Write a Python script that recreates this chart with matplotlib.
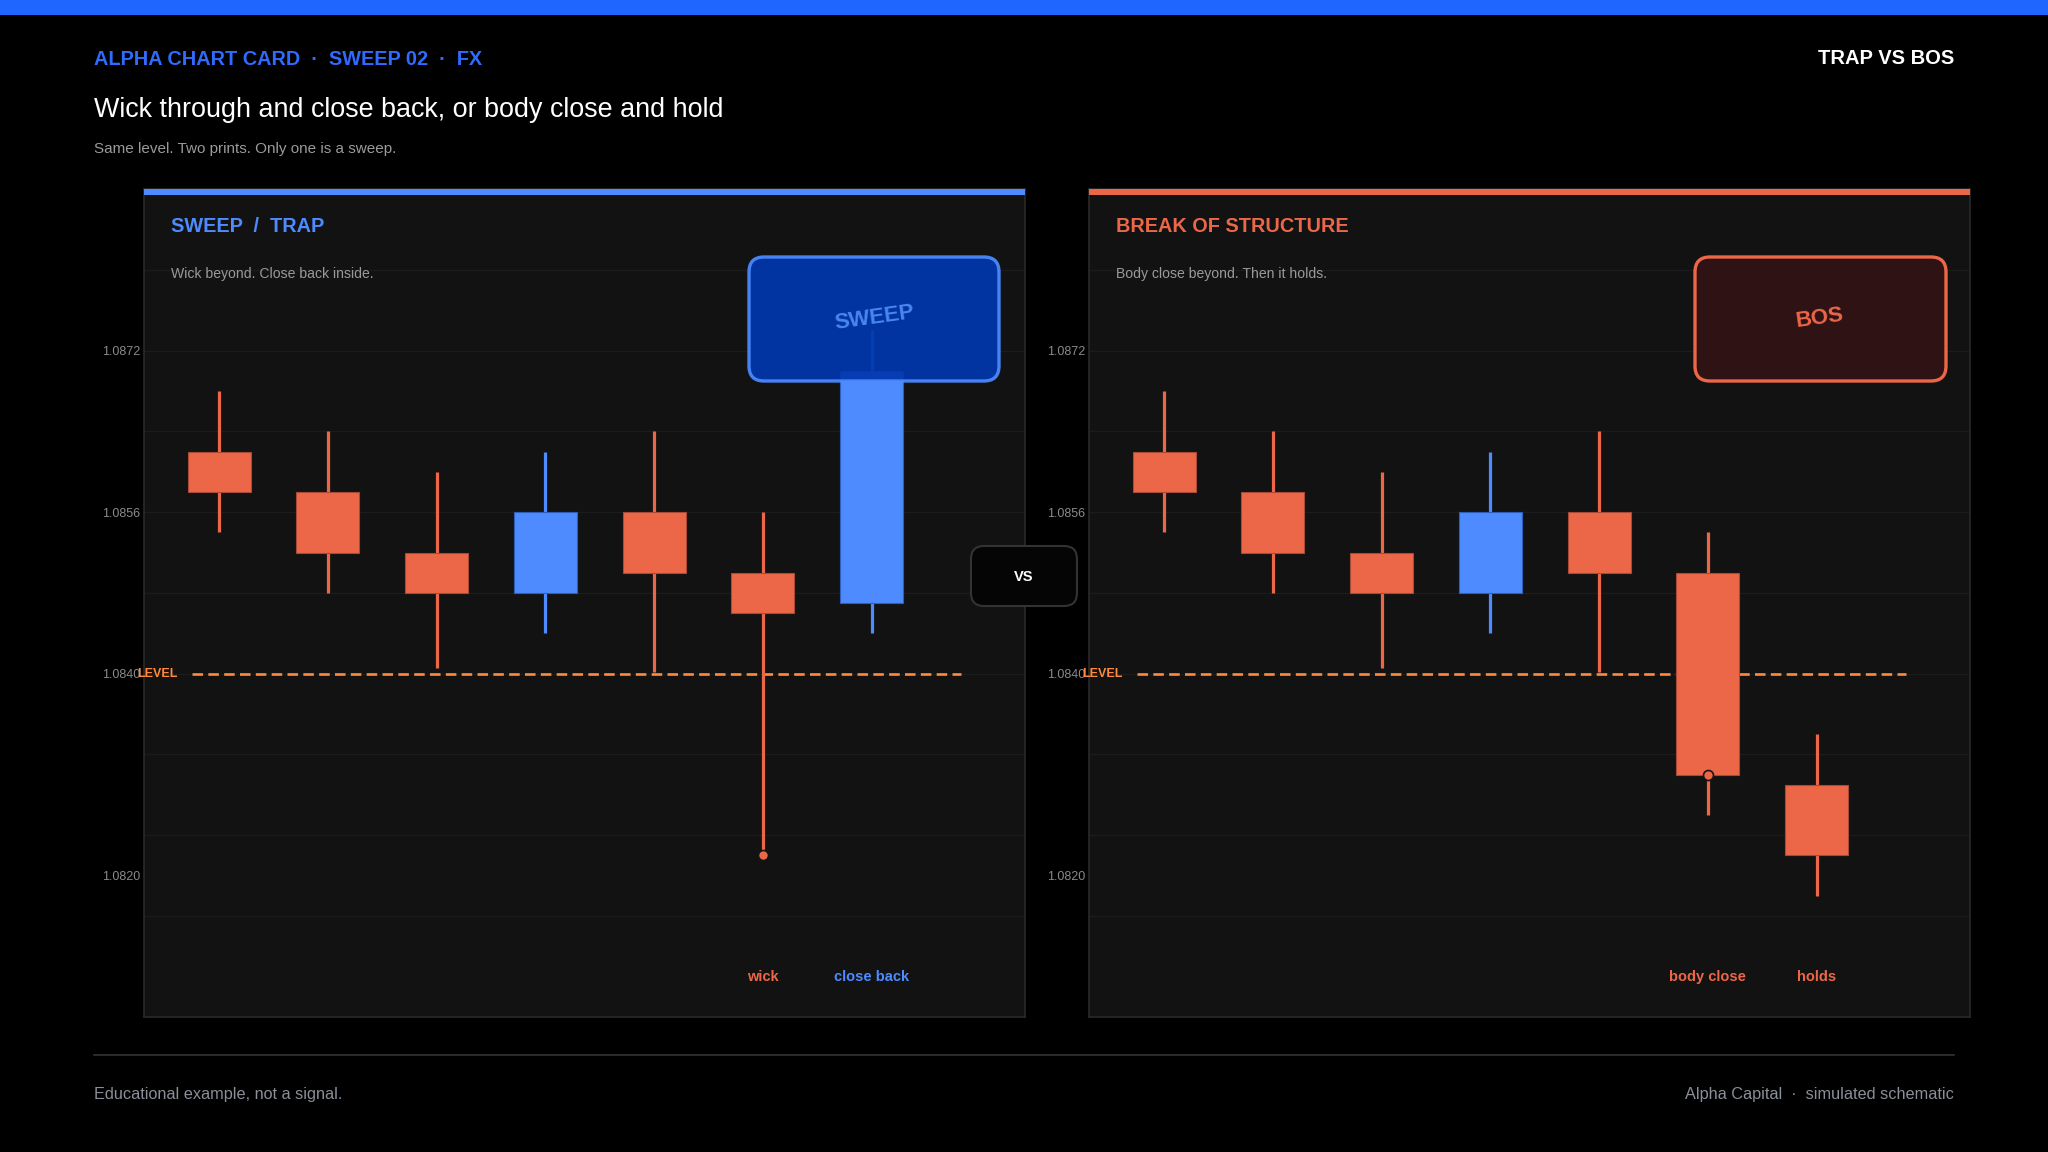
import matplotlib
matplotlib.use("Agg")
import matplotlib.pyplot as plt
from matplotlib.patches import Rectangle, FancyBboxPatch
import matplotlib.transforms as mtransforms

plt.rcParams['font.family'] = ['Liberation Sans', 'DejaVu Sans']

# ---------------- data ----------------
x_idx = [0, 1, 2, 3, 4, 5, 6]

sweep_open = [1.0862, 1.0858, 1.0852, 1.0848, 1.0856, 1.0850, 1.0847]
sweep_close = [1.0858, 1.0852, 1.0848, 1.0856, 1.0850, 1.0846, 1.0870]
sweep_high = [1.0868, 1.0864, 1.0860, 1.0862, 1.0864, 1.0856, 1.0874]
sweep_low = [1.0854, 1.0848, 1.08406, 1.0844, 1.08402, 1.0822, 1.0844]

bos_open = [1.0862, 1.0858, 1.0852, 1.0848, 1.0856, 1.0850, 1.0829]
bos_close = [1.0858, 1.0852, 1.0848, 1.0856, 1.0850, 1.0830, 1.0822]
bos_high = [1.0868, 1.0864, 1.0860, 1.0862, 1.0864, 1.0854, 1.0834]
bos_low = [1.0854, 1.0848, 1.08406, 1.0844, 1.08402, 1.0826, 1.0818]

level = 1.0840
ytick_vals = [1.0872, 1.0856, 1.0840, 1.0820]
grid_vals = [1.0880, 1.0872, 1.0864, 1.0856, 1.0848, 1.0840, 1.0832, 1.0824, 1.0816]

sweep_marks = [(5, 'wick'), (6, 'close back')]
bos_marks = [(5, 'body close'), (6, 'holds')]

# ---------------- style ----------------
W, H = 2048, 1152
BG = '#000000'
PANEL = '#121212'
ORANGE = '#ec6748'
BLUE = '#4d8bff'
LEVEL_C = '#ff8a3d'
HEAD_BLUE = '#2f6bff'

fig = plt.figure(figsize=(W / 100, H / 100), dpi=100, facecolor=BG)


def fx(px):
    return px / W


def fy(py):
    return 1 - py / H


# top bar
fig.add_artist(Rectangle((0, fy(15)), 1, 15 / H, transform=fig.transFigure,
                         facecolor='#1f66ff', edgecolor='none', zorder=1))

fig.text(fx(94), fy(65), 'ALPHA CHART CARD  ·  SWEEP 02  ·  FX', color=HEAD_BLUE,
         fontsize=14.3, fontweight='bold', va='baseline', ha='left')
fig.text(fx(1954), fy(64), 'TRAP VS BOS', color='white', fontsize=14.5,
         fontweight='bold', va='baseline', ha='right')
fig.text(fx(94), fy(117), 'Wick through and close back, or body close and hold',
         color='white', fontsize=19.4, va='baseline', ha='left')
fig.text(fx(94), fy(153), 'Same level. Two prints. Only one is a sweep.',
         color='#9a9a9a', fontsize=11, va='baseline', ha='left')

# footer
fig.add_artist(plt.Line2D([fx(94), fx(1954)], [fy(1055), fy(1055)], transform=fig.transFigure,
                          color='#333333', lw=1.2))
fig.text(fx(94), fy(1099), 'Educational example, not a signal.', color='#8a8f98',
         fontsize=11.7, va='baseline', ha='left')
fig.text(fx(1954), fy(1099), 'Alpha Capital  ·  simulated schematic', color='#8a8f98',
         fontsize=11.7, va='baseline', ha='right')

panels = [
    dict(left=144, accent=BLUE, title='SWEEP  /  TRAP', sub='Wick beyond. Close back inside.',
         o=sweep_open, c=sweep_close, h=sweep_high, l=sweep_low, marks=sweep_marks,
         dot='low'),
    dict(left=1089, accent=ORANGE, title='BREAK OF STRUCTURE', sub='Body close beyond. Then it holds.',
         o=bos_open, c=bos_close, h=bos_high, l=bos_low, marks=bos_marks,
         dot='close'),
]

PW = 881
TOP, BOT = 189, 1017

for p in panels:
    L = p['left']
    ax = fig.add_axes([fx(L), fy(BOT), PW / W, (BOT - TOP) / H])
    ax.set_facecolor(PANEL)
    ax.set_xlim(-0.69, 7.41)
    ax.set_ylim(1.0806, 1.0888)
    for s in ax.spines.values():
        s.set_color('#2a2a2a')
        s.set_linewidth(1.2)
    ax.set_xticks([])
    ax.set_yticks(ytick_vals)
    ax.set_yticklabels([f'{v:.4f}' for v in ytick_vals])
    ax.tick_params(axis='y', length=0, pad=3, labelsize=9, labelcolor='#8a8a8a')
    for g in grid_vals:
        ax.axhline(g, color='#1c1c1c', lw=1, zorder=0.5)

    # level line
    ax.plot([-0.25, 6.82], [level, level], color=LEVEL_C, lw=1.9, dashes=(4, 2), zorder=1)
    ax.text(-0.008, level, 'LEVEL', transform=mtransforms.blended_transform_factory(ax.transAxes, ax.transData),
            color=LEVEL_C, fontsize=9, fontweight='bold', ha='left', va='center', zorder=6, clip_on=False)

    for i in x_idx:
        o, c, hi, lo = p['o'][i], p['c'][i], p['h'][i], p['l'][i]
        col = BLUE if c > o else ORANGE
        edge = '#2f5fb8' if c > o else '#a84a35'
        ax.vlines(i, lo, hi, color=col, lw=2.3, zorder=2)
        ax.bar(i, abs(c - o), bottom=min(o, c), width=0.58, color=col,
               edgecolor=edge, linewidth=0.8, zorder=3)

    k = 5
    dy = p['l'][k] if p['dot'] == 'low' else p['c'][k]
    ax.scatter([k], [dy], s=52, color=ORANGE, edgecolors='#151515', linewidths=1.2, zorder=4)

    for i, txt in p['marks']:
        col = BLUE if p['c'][i] > p['o'][i] else ORANGE
        ax.text(i, 1.0810, txt, color=col, fontsize=10.5, fontweight='bold',
                ha='center', va='center', zorder=6)

    # accent bar and titles
    fig.add_artist(Rectangle((fx(L), fy(195)), PW / W, 6 / H, transform=fig.transFigure,
                             facecolor=p['accent'], edgecolor='none', zorder=3))
    fig.text(fx(L + 27), fy(232), p['title'], color=p['accent'], fontsize=14.3,
             fontweight='bold', va='baseline', ha='left', zorder=4)
    fig.text(fx(L + 27), fy(278), p['sub'], color='#9a9a9a', fontsize=10.1,
             va='baseline', ha='left', zorder=4)

# stamp boxes (display inches via dpi_scale_trans)
tr = fig.dpi_scale_trans


def rbox(x0, y0, x1, y1, face, edge, lw, r, alpha=1.0, z=5):
    b = FancyBboxPatch((x0 / 100, (H - y1) / 100), (x1 - x0) / 100, (y1 - y0) / 100,
                       boxstyle=f'round,pad=0,rounding_size={r}', transform=tr,
                       facecolor=face, edgecolor=edge, linewidth=lw, alpha=alpha, zorder=z)
    fig.add_artist(b)


rbox(749, 257, 999, 381, '#0037ae', BLUE, 2.4, 0.15, alpha=0.92)
fig.text(fx(874), fy(318), 'SWEEP', color='#4a86f0', fontsize=16, fontweight='bold',
         rotation=8, ha='center', va='center', rotation_mode='anchor', zorder=6)

rbox(1695, 257, 1946, 381, '#2e1214', ORANGE, 2.4, 0.15)
fig.text(fx(1820), fy(318), 'BOS', color=ORANGE, fontsize=16, fontweight='bold',
         rotation=8, ha='center', va='center', rotation_mode='anchor', zorder=6)

rbox(971, 546, 1077, 606, '#050505', '#333333', 1.5, 0.13)
fig.text(fx(1024), fy(577), 'VS', color='white', fontsize=10.5, fontweight='bold',
         ha='center', va='center', zorder=6)

fig.savefig('out.png', dpi=100, facecolor=BG)
